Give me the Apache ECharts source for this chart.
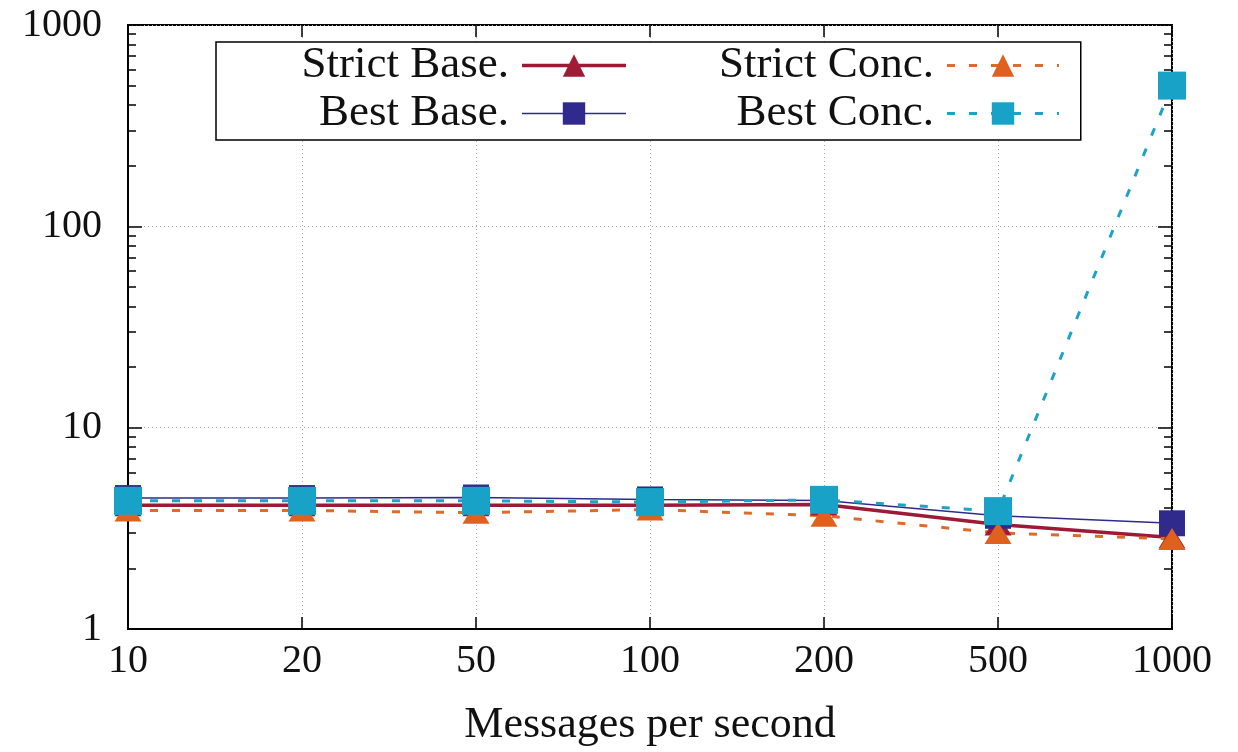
<!DOCTYPE html>
<html>
<head>
<meta charset="utf-8">
<script src="https://cdn.jsdelivr.net/npm/echarts@6/dist/echarts.min.js"></script>
<style>
  html, body { margin: 0; padding: 0; background: #fff; }
  #chart { width: 1238px; height: 752px; }
</style>
</head>
<body>
<div id="chart"></div>
<script>
// messages per second (evenly spaced categories)
const categories = ["10", "20", "50", "100", "200", "500", "1000"];

const strictBase = [4.12, 4.12, 4.12, 4.12, 4.15, 3.3, 2.85];
const bestBase = [4.47, 4.47, 4.5, 4.4, 4.35, 3.65, 3.35];
const strictConc = [3.88, 3.88, 3.78, 3.92, 3.65, 3.0, 2.8];
const bestConc = [4.33, 4.33, 4.33, 4.27, 4.38, 3.85, 500];

const yMajorTicks = [1, 10, 100, 1000];
const yMinorTicks = [2, 3, 4, 5, 6, 7, 8, 9, 20, 30, 40, 50, 60, 70, 80, 90, 200, 300, 400, 500, 600, 700, 800, 900];

const FONT = "Liberation Serif";
const chart = echarts.init(document.getElementById("chart"));

function tickOnlyY(position, values, len) {
  return {
    type: "log",
    logBase: 10,
    min: 1,
    max: 1000,
    position: position,
    axisLine: { show: false },
    axisLabel: { show: false },
    splitLine: { show: false },
    axisTick: {
      show: true,
      inside: true,
      length: len,
      customValues: values,
      lineStyle: { color: "#000", width: 1.5 },
    },
  };
}

const legendText = {
  fontFamily: FONT,
  fontSize: 45,
  color: "#111",
  width: 270,
  lineHeight: 28,
  padding: [0, 8, 0, 0],
};

chart.setOption({
  animation: false,
  backgroundColor: "#fff",
  grid: {
    left: 128,
    right: 66,
    top: 25,
    bottom: 121,
    show: true,
    borderColor: "#000",
    borderWidth: 2,
  },
  legend: [
    {
      data: [
        { name: "Strict Base.", lineStyle: { width: 3.5 } },
        { name: "Best Base.", lineStyle: { width: 1.5 } },
      ],
      orient: "vertical",
      align: "right",
      left: 216,
      top: 42,
      padding: [1, 453, 4, 23],
      itemWidth: 104,
      itemHeight: 28,
      itemGap: 3,
      backgroundColor: "#fff",
      borderColor: "#000",
      borderWidth: 1.5,
      textStyle: legendText,
      z: 10,
    },
    {
      data: [
        { name: "Strict Conc.", lineStyle: { width: 3 } },
        { name: "Best Conc.", lineStyle: { width: 3 } },
      ],
      orient: "vertical",
      align: "right",
      left: 664,
      top: 43,
      padding: 0,
      itemWidth: 112,
      itemHeight: 28,
      itemGap: 3,
      textStyle: legendText,
      z: 11,
    },
  ],
  xAxis: [
    {
      type: "category",
      data: categories,
      boundaryGap: false,
      name: "Messages per second",
      nameLocation: "middle",
      nameGap: 74,
      nameTextStyle: { fontFamily: FONT, fontSize: 44, color: "#111" },
      axisLine: { lineStyle: { color: "#000", width: 2 } },
      axisTick: { inside: true, length: 12, lineStyle: { color: "#000", width: 1.5 } },
      axisLabel: { fontFamily: FONT, fontSize: 40, color: "#111", margin: 12 },
      splitLine: { show: true, lineStyle: { color: "#aaa", type: [1, 3], width: 1 } },
    },
    {
      type: "category",
      data: categories,
      boundaryGap: false,
      position: "top",
      axisLine: { show: false },
      axisLabel: { show: false },
      axisTick: { inside: true, length: 12, lineStyle: { color: "#000", width: 1.5 } },
      splitLine: { show: false },
    },
  ],
  yAxis: [
    {
      type: "log",
      logBase: 10,
      min: 1,
      max: 1000,
      axisLine: { show: true, lineStyle: { color: "#000", width: 2 } },
      axisTick: {
        show: true,
        inside: true,
        length: 14,
        customValues: yMajorTicks,
        lineStyle: { color: "#000", width: 1.5 },
      },
      axisLabel: {
        fontFamily: FONT,
        fontSize: 40,
        color: "#111",
        margin: 26,
        customValues: yMajorTicks,
        formatter: (v) => String(v),
      },
      splitLine: { show: true, lineStyle: { color: "#aaa", type: [1, 3], width: 1 } },
    },
    tickOnlyY("left", yMinorTicks, 8),
    tickOnlyY("right", yMajorTicks, 14),
    tickOnlyY("right", yMinorTicks, 8),
  ],
  series: [
    {
      name: "Strict Base.",
      type: "line",
      data: strictBase,
      symbol: "triangle",
      symbolSize: [27, 22],
      color: "#9c1a35",
      lineStyle: { width: 3.5, color: "#9c1a35" },
      itemStyle: { color: "#a01c35" },
    },
    {
      name: "Best Base.",
      type: "line",
      data: bestBase,
      symbol: "rect",
      symbolSize: 26,
      color: "#2f2a8c",
      lineStyle: { width: 1.5, color: "#2f2a8c" },
      itemStyle: { color: "#2f2a8c" },
    },
    {
      name: "Strict Conc.",
      type: "line",
      data: strictConc,
      symbol: "triangle",
      symbolSize: [27, 22],
      color: "#e0601e",
      lineStyle: { width: 3, color: "#e06a2a", type: [8, 14] },
      itemStyle: { color: "#e0601e" },
    },
    {
      name: "Best Conc.",
      type: "line",
      data: bestConc,
      symbol: "rect",
      symbolSize: 28,
      color: "#18a2c8",
      lineStyle: { width: 3, color: "#1ba3c8", type: [8, 14] },
      itemStyle: { color: "#18a2c8" },
    },
  ],
});

window.addEventListener("resize", () => chart.resize());
</script>
</body>
</html>
